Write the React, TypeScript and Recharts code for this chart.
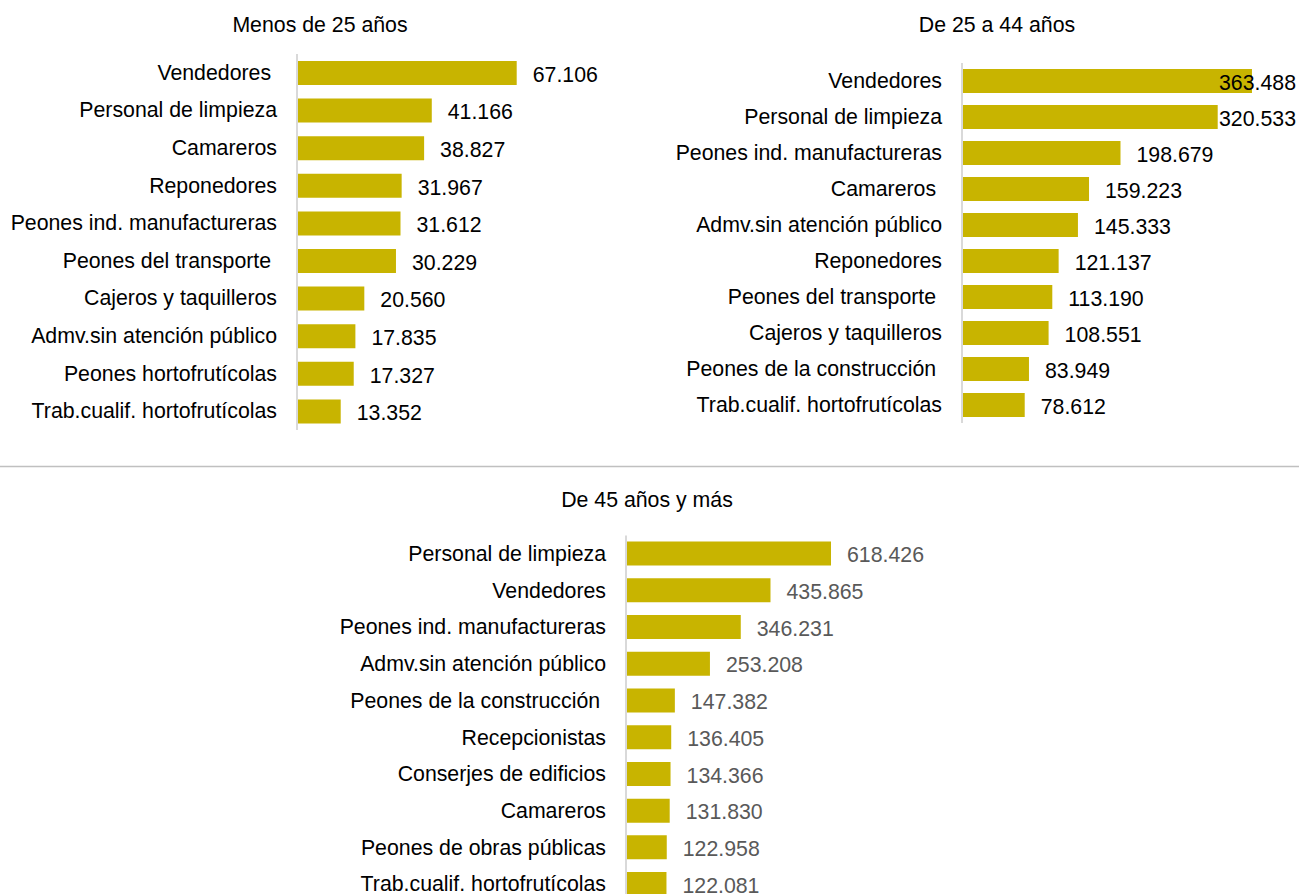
import React from "react";
import { BarChart, Bar, XAxis, YAxis, LabelList } from "recharts";

const FONT = '"Liberation Sans", Arial, Helvetica, sans-serif';
const BAR_COLOR = "#C8B400";
const AXIS_COLOR = "#D9D9D9";

const titles = ["Menos de 25 años", "De 25 a 44 años", "De 45 años y más"];

const cats1 = [
  "Vendedores ",
  "Personal de limpieza",
  "Camareros",
  "Reponedores",
  "Peones ind. manufactureras",
  "Peones del transporte ",
  "Cajeros y taquilleros",
  "Admv.sin atención público",
  "Peones hortofrutícolas",
  "Trab.cualif. hortofrutícolas",
];
const vals1 = [67106, 41166, 38827, 31967, 31612, 30229, 20560, 17835, 17327, 13352];

const cats2 = [
  "Vendedores",
  "Personal de limpieza",
  "Peones ind. manufactureras",
  "Camareros ",
  "Admv.sin atención público",
  "Reponedores",
  "Peones del transporte ",
  "Cajeros y taquilleros",
  "Peones de la construcción ",
  "Trab.cualif. hortofrutícolas",
];
const vals2 = [363488, 320533, 198679, 159223, 145333, 121137, 113190, 108551, 83949, 78612];

const cats3 = [
  "Personal de limpieza",
  "Vendedores",
  "Peones ind. manufactureras",
  "Admv.sin atención público",
  "Peones de la construcción ",
  "Recepcionistas",
  "Conserjes de edificios",
  "Camareros",
  "Peones de obras públicas",
  "Trab.cualif. hortofrutícolas",
];
const vals3 = [618426, 435865, 346231, 253208, 147382, 136405, 134366, 131830, 122958, 122081];

const fmt = (v: number) => String(Math.round(v)).replace(/\B(?=(\d{3})+(?!\d))/g, ".");

const build = (cats: string[], vals: number[]) => cats.map((c, i) => ({ cat: c, value: vals[i] }));

const FS = 21.3;

const makeTick = (fill: string) => (props: any) => {
  const { x, y, payload } = props;
  return (
    <text
      x={x}
      y={y}
      dy="0.33em"
      textAnchor="end"
      fontSize={FS}
      fontFamily={FONT}
      fill={fill}
      style={{ whiteSpace: "pre" }}
    >
      {payload.value}
    </text>
  );
};

const textWidth = (s: string) => {
  let w = 0;
  for (const ch of s) w += ch === "." ? 0.278 : 0.556;
  return w * FS;
};

const makeValueLabel = (fill: string, rightLimit: number) => (props: any) => {
  const { x, y, width, height, value } = props;
  const s = fmt(Number(value));
  const start = Number(x) + Number(width) + 16;
  const tw = textWidth(s);
  const clamp = start + tw > rightLimit;
  return (
    <text
      x={clamp ? rightLimit : start}
      y={Number(y) + Number(height) / 2}
      dy="0.41em"
      textAnchor={clamp ? "end" : "start"}
      fontSize={FS}
      fontFamily={FONT}
      fill={fill}
    >
      {s}
    </text>
  );
};

type PanelProps = {
  data: { cat: string; value: number }[];
  left: number;
  top: number;
  width: number;
  height: number;
  axisW: number;
  margin: { top: number; right: number; bottom: number; left: number };
  domainMax: number;
  valueFill: string;
  rightLimit: number;
};

const Panel = (p: PanelProps) => (
  <div style={{ position: "absolute", left: p.left, top: p.top, width: p.width, height: p.height }}>
    <BarChart width={p.width} height={p.height} data={p.data} layout="vertical" margin={p.margin}>
      <XAxis type="number" hide domain={[0, p.domainMax]} />
      <YAxis
        type="category"
        dataKey="cat"
        width={p.axisW}
        interval={0}
        tickLine={false}
        tickSize={0}
        tickMargin={20}
        axisLine={{ stroke: AXIS_COLOR, strokeWidth: 2 }}
        tick={makeTick("#000000")}
      />
      <Bar dataKey="value" fill={BAR_COLOR} barSize={24} isAnimationActive={false}>
        <LabelList dataKey="value" content={makeValueLabel(p.valueFill, p.rightLimit)} />
      </Bar>
    </BarChart>
  </div>
);

export default function App() {
  return (
    <div
      style={{
        position: "absolute",
        left: 0,
        top: 0,
        width: 1299,
        height: 894,
        overflow: "hidden",
        background: "#ffffff",
        fontFamily: FONT,
      }}
    >
      <Panel
        data={build(cats1, vals1)}
        left={0}
        top={0}
        width={650}
        height={440}
        axisW={297}
        margin={{ top: 54, right: 25.6, bottom: 10, left: 0 }}
        domainMax={100000}
        valueFill="#000000"
        rightLimit={646}
      />
      <Panel
        data={build(cats2, vals2)}
        left={650}
        top={0}
        width={649}
        height={440}
        axisW={312}
        margin={{ top: 63, right: 17.9, bottom: 17, left: 0 }}
        domainMax={400000}
        valueFill="#000000"
        rightLimit={646}
      />
      <Panel
        data={build(cats3, vals3)}
        left={0}
        top={466}
        width={1299}
        height={440}
        axisW={626}
        margin={{ top: 69.6, right: 341.5, bottom: 3.2, left: 0 }}
        domainMax={1000000}
        valueFill="#595959"
        rightLimit={1290}
      />
      <svg
        width={1299}
        height={894}
        style={{ position: "absolute", left: 0, top: 0, pointerEvents: "none" }}
      >
        <line x1={0} x2={1299} y1={466.5} y2={466.5} stroke="#C0C0C0" strokeWidth={1.5} />
        <text x={320} y={32} textAnchor="middle" fontSize={FS} fontFamily={FONT} fill="#000">
          {titles[0]}
        </text>
        <text x={997} y={31.5} textAnchor="middle" fontSize={FS} fontFamily={FONT} fill="#000">
          {titles[1]}
        </text>
        <text x={647} y={507} textAnchor="middle" fontSize={FS} fontFamily={FONT} fill="#000">
          {titles[2]}
        </text>
      </svg>
    </div>
  );
}
